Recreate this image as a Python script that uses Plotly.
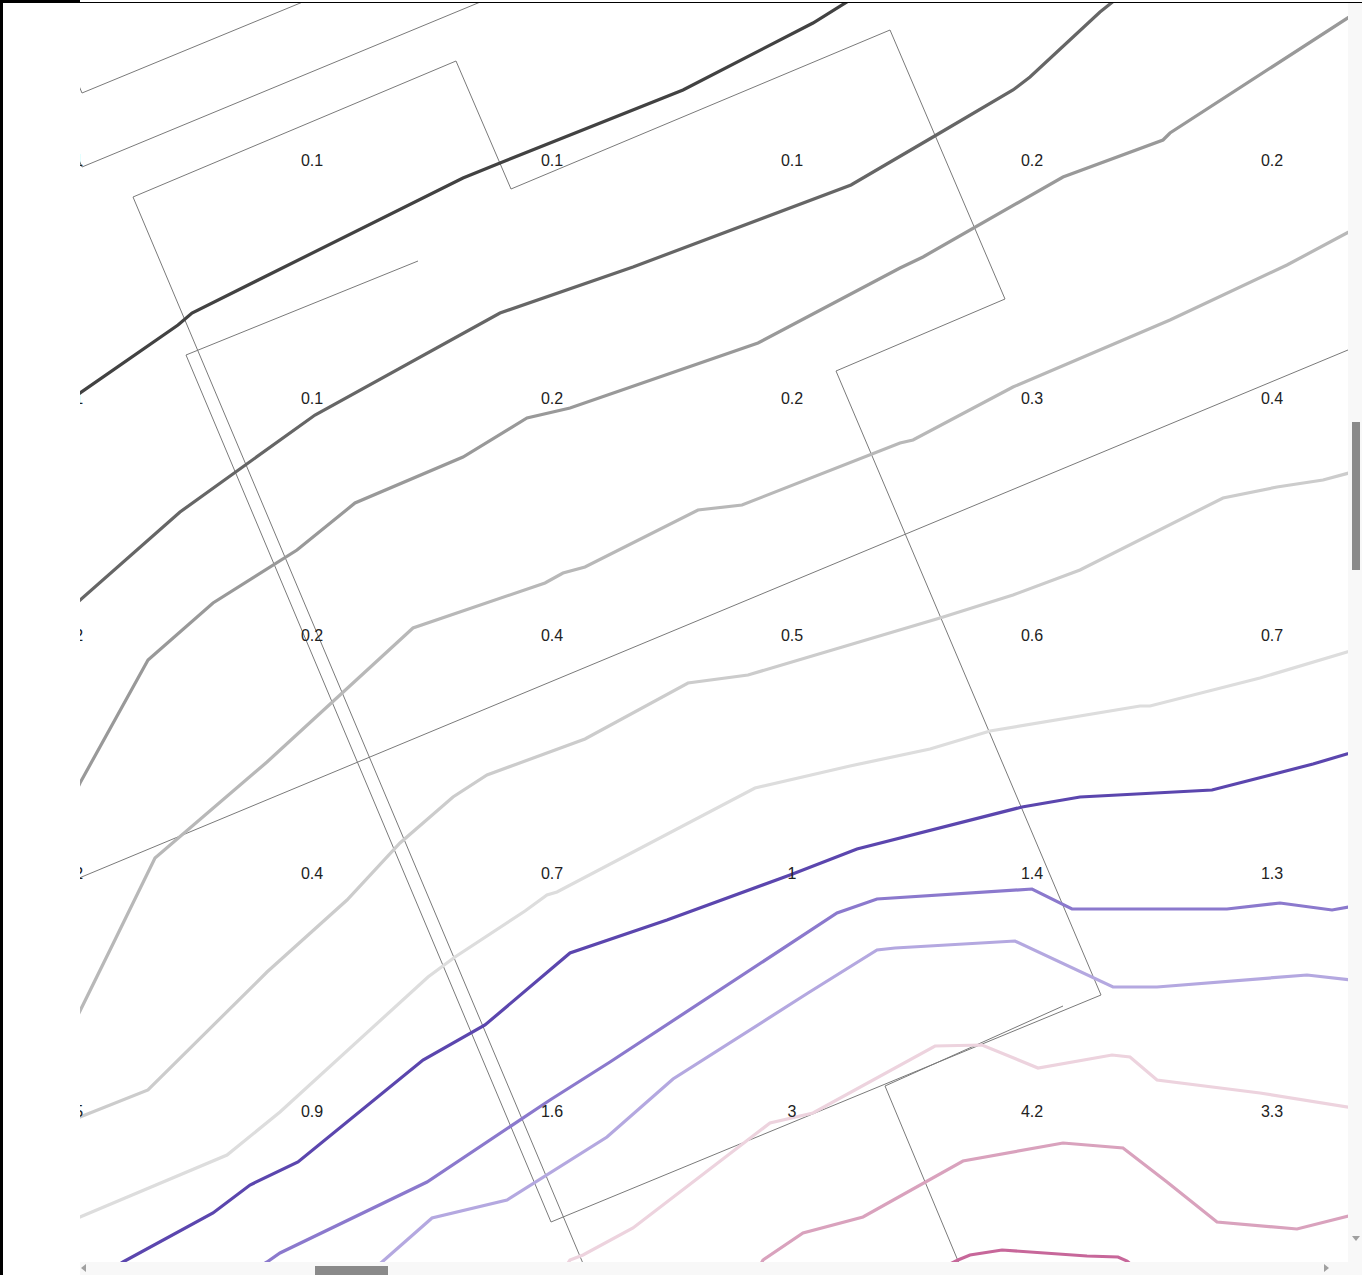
import plotly.graph_objects as go

# ---------------- data (map units: easting / southing of the view) ----------------
label_cols = [72, 312, 552, 792, 1032, 1272]
label_rows = [162, 400, 637, 875, 1113]
label_values = [
    ["0.1", "0.1", "0.1", "0.1", "0.2", "0.2"],
    ["0.1", "0.1", "0.2", "0.2", "0.3", "0.4"],
    ["0.2", "0.2", "0.4", "0.5", "0.6", "0.7"],
    ["0.2", "0.4", "0.7", "1", "1.4", "1.3"],
    ["0.5", "0.9", "1.6", "3", "4.2", "3.3"],
]

# contour lines (levels from low to high)
c1_x = [70, 178, 192, 463, 500, 683, 813, 850]
c1_y = [400, 325, 313, 178, 163, 90, 23, 0]
c2_x = [70, 165, 180, 315, 500, 633, 810, 851, 933, 1013, 1030, 1100, 1125]
c2_y = [609, 525, 512, 415, 313, 267, 200, 185, 137, 90, 77, 12, -8]
c3_x = [70, 80, 148, 213, 297, 355, 463, 527, 570, 758, 900, 923, 1063, 1163, 1170, 1310, 1360]
c3_y = [804, 783, 660, 603, 550, 503, 457, 418, 408, 343, 268, 257, 177, 140, 133, 42, 10]
c4_x = [70, 80, 110, 155, 267, 413, 545, 563, 585, 698, 742, 900, 913, 1013, 1170, 1287, 1360]
c4_y = [1030, 1011, 950, 858, 762, 628, 583, 573, 567, 510, 505, 443, 440, 387, 320, 265, 226]
c5_x = [70, 80, 148, 267, 347, 400, 453, 487, 585, 688, 748, 850, 940, 1013, 1080, 1223, 1277, 1323, 1360]
c5_y = [1122, 1117, 1090, 972, 900, 843, 797, 775, 739, 683, 675, 645, 618, 595, 570, 498, 487, 480, 470]
c6_x = [70, 80, 227, 280, 428, 455, 525, 547, 557, 755, 850, 930, 990, 1140, 1150, 1260, 1347, 1360]
c6_y = [1222, 1217, 1155, 1112, 977, 957, 911, 895, 892, 788, 766, 749, 731, 706, 706, 678, 652, 648]
c7_x = [110, 123, 213, 250, 298, 423, 485, 570, 667, 790, 857, 927, 1022, 1080, 1212, 1313, 1360]
c7_y = [1270, 1262, 1213, 1185, 1162, 1060, 1025, 953, 920, 875, 849, 831, 807, 797, 790, 764, 750]
c8_x = [250, 267, 280, 413, 427, 550, 600, 610, 837, 877, 1032, 1072, 1227, 1280, 1332, 1360]
c8_y = [1272, 1262, 1253, 1189, 1182, 1100, 1068, 1062, 913, 899, 889, 909, 909, 903, 910, 905]
c9_x = [370, 382, 432, 507, 607, 673, 808, 877, 895, 1015, 1113, 1157, 1307, 1360]
c9_y = [1272, 1262, 1218, 1200, 1137, 1079, 993, 950, 948, 941, 987, 987, 975, 981]
c10_x = [560, 570, 583, 633, 770, 813, 935, 982, 1038, 1112, 1130, 1157, 1260, 1360]
c10_y = [1275, 1260, 1255, 1228, 1123, 1113, 1046, 1045, 1068, 1055, 1057, 1080, 1093, 1109]
c11_x = [755, 763, 803, 863, 963, 1063, 1123, 1167, 1217, 1297, 1360]
c11_y = [1275, 1260, 1233, 1217, 1161, 1143, 1148, 1182, 1222, 1229, 1213]
c12_x = [950, 958, 970, 1002, 1087, 1118, 1127, 1135]
c12_y = [1264, 1260, 1255, 1250, 1256, 1257, 1261, 1268]

# parcel / boundary outlines
b1_x = [60, 82, 310]
b1_y = [41, 93, -1]
b2_x = [60, 82, 490]
b2_y = [115, 167, -2]
b3_x = [590, 133, 456, 511, 890, 1005, 836, 1101, 551, 186, 418]
b3_y = [1280, 197, 61, 189, 30, 299, 371, 995, 1222, 355, 261]
b4_x = [1063, 885, 966]
b4_y = [1006, 1086, 1280]
b5_x = [60, 1360]
b5_y = [886, 345]

contours = [
    (c1_x, c1_y, "#424242"),
    (c2_x, c2_y, "#666666"),
    (c3_x, c3_y, "#999999"),
    (c4_x, c4_y, "#b8b8b8"),
    (c5_x, c5_y, "#cccccc"),
    (c6_x, c6_y, "#dddddd"),
    (c7_x, c7_y, "#5b46ae"),
    (c8_x, c8_y, "#8b79cd"),
    (c9_x, c9_y, "#b4a8e0"),
    (c10_x, c10_y, "#edd3de"),
    (c11_x, c11_y, "#d9a2bd"),
    (c12_x, c12_y, "#c7679a"),
]
boundaries = [(b1_x, b1_y), (b2_x, b2_y), (b3_x, b3_y), (b4_x, b4_y), (b5_x, b5_y)]

# ---------------- figure ----------------
fig = go.Figure()

for bx, by in boundaries:
    fig.add_trace(go.Scatter(x=bx, y=by, mode="lines",
                             line=dict(color="#7a7a7a", width=1),
                             hoverinfo="skip", showlegend=False))

for cx, cy, col in contours:
    fig.add_trace(go.Scatter(x=cx, y=cy, mode="lines",
                             line=dict(color=col, width=3.2),
                             hoverinfo="skip", showlegend=False))

tx, ty, tt = [], [], []
for r, row in zip(label_rows, label_values):
    for c, v in zip(label_cols, row):
        tx.append(c)
        ty.append(r)
        tt.append(v)
fig.add_trace(go.Scatter(x=tx, y=ty, text=tt, mode="text",
                         textposition="middle center", cliponaxis=True,
                         textfont=dict(family="Liberation Sans, Arial", size=16, color="#222222"),
                         hoverinfo="skip", showlegend=False))

W, H = 1362, 1275
L, R, T, B = 80, 14, 3, 13


def pxx(x):
    return (x - L) / (W - L - R)


def pxy(y):
    return (H - B - y) / (H - T - B)


chrome = [
    # scrollbar tracks
    dict(x0=1348, x1=1362, y0=3, y1=1275, fill="#f8f8f8", line="#f8f8f8"),
    dict(x0=80, x1=1362, y0=1262, y1=1275, fill="#f8f8f8", line="#f8f8f8"),
    # thumbs
    dict(x0=1352, x1=1360, y0=422, y1=570, fill="#8a8a8a", line="#8a8a8a"),
    dict(x0=315, x1=388, y0=1266, y1=1276, fill="#8a8a8a", line="#8a8a8a"),
    # black frame
    dict(x0=0, x1=3, y0=0, y1=1275, fill="#000000", line="#000000"),
    dict(x0=0, x1=80, y0=0, y1=3, fill="#000000", line="#000000"),
    dict(x0=80, x1=1362, y0=2, y1=3, fill="#000000", line="#000000"),
]
shapes = []
for c in chrome:
    shapes.append(dict(type="rect", xref="paper", yref="paper",
                       x0=pxx(c["x0"]), x1=pxx(c["x1"]), y0=pxy(c["y1"]), y1=pxy(c["y0"]),
                       fillcolor=c["fill"], line=dict(color=c["line"], width=0), layer="above"))


def tri(pts):
    p = "M " + " L ".join(f"{pxx(a):.6f},{pxy(b):.6f}" for a, b in pts) + " Z"
    return dict(type="path", xref="paper", yref="paper", path=p,
                fillcolor="#a0a0a0", line=dict(width=0), layer="above")


shapes.append(tri([(81, 1268), (86, 1264), (86, 1272)]))
shapes.append(tri([(1324, 1264), (1329, 1268), (1324, 1272)]))
shapes.append(tri([(1352, 1236), (1360, 1236), (1356, 1241)]))

fig.update_layout(
    width=W, height=H,
    margin=dict(l=L, r=R, t=T, b=B, pad=0),
    paper_bgcolor="white", plot_bgcolor="white",
    xaxis=dict(range=[L, W - R], visible=False, fixedrange=True),
    yaxis=dict(range=[H - B, T], visible=False, fixedrange=True),
    shapes=shapes,
    showlegend=False,
)

fig.write_html("out.html",
               config={"displayModeBar": False},
               post_script="document.body.style.margin='0';document.body.style.overflow='hidden';")
